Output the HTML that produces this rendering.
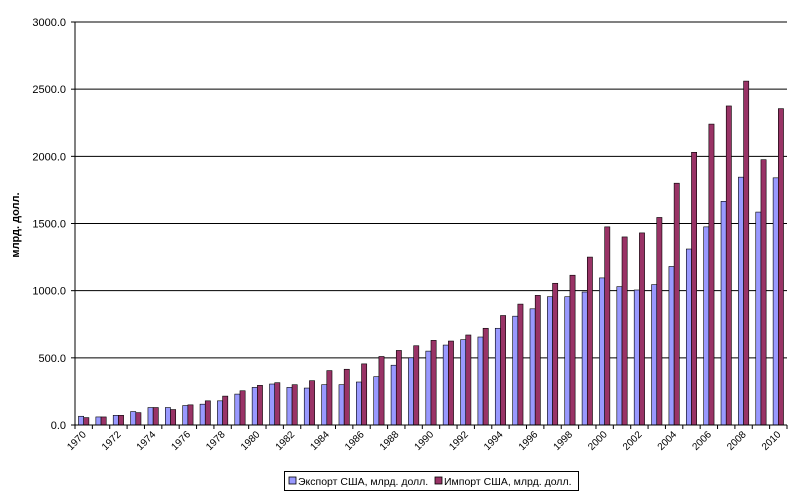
<!DOCTYPE html>
<html><head><meta charset="utf-8"><style>body{margin:0;background:#fff}svg{display:block}</style></head><body>
<svg id="c" width="800" height="498" xmlns="http://www.w3.org/2000/svg" font-family="Liberation Sans, Arial, sans-serif"></svg>
<script>
const ex=[65,60,72,100,130,130,145,155,180,230,280,305,280,275,300,300,320,360,445,500,550,595,635,655,720,810,865,955,955,990,1095,1030,1005,1045,1180,1310,1475,1665,1845,1585,1840];
const im=[55,60,72,92,130,115,150,180,215,255,295,315,300,330,405,415,455,510,555,590,630,625,670,720,815,900,965,1055,1115,1250,1475,1400,1430,1545,1800,2030,2240,2375,2560,1975,2355];
const x0=75,x1=787,y0=425,yt=22,n=41,gw=(x1-x0)/n,k=(y0-yt)/3000;
let s='';
for(let v=500;v<=3000;v+=500){const y=y0-v*k;s+=`<line x1="${x0}" x2="${x1}" y1="${y}" y2="${y}" stroke="#000" stroke-width="1"/>`;}
for(let v=0;v<=3000;v+=500){const y=y0-v*k;s+=`<text x="66" y="${y+4}" font-size="11" text-anchor="end">${v}.0</text><line x1="71" x2="${x0}" y1="${y}" y2="${y}" stroke="#000"/>`;}
for(let i=0;i<n;i++){const gx=x0+i*gw;const bw=5.2;const bx=gx+gw/2-bw;
s+=`<rect x="${bx}" y="${y0-ex[i]*k}" width="${bw}" height="${ex[i]*k}" fill="#9999ff" stroke="#000" stroke-width="0.6"/>`;
s+=`<rect x="${bx+bw}" y="${y0-im[i]*k}" width="${bw}" height="${im[i]*k}" fill="#993366" stroke="#000" stroke-width="0.6"/>`;
s+=`<line x1="${gx}" x2="${gx}" y1="${y0}" y2="${y0+4}" stroke="#000"/>`;
if(i%2==0){const cx=gx+gw/2+3,cy=y0+10;s+=`<text x="${cx}" y="${cy}" font-size="10" text-anchor="end" transform="rotate(-45 ${cx} ${cy})">${1970+i}</text>`;}}
s+=`<line x1="${x1}" x2="${x1}" y1="${y0}" y2="${y0+4}" stroke="#000"/>`;
s+=`<line x1="${x0}" x2="${x1}" y1="${y0}" y2="${y0}" stroke="#000"/><line x1="${x0}" x2="${x0}" y1="${yt}" y2="${y0}" stroke="#000"/>`;
s+=`<text x="19" y="225" font-size="11" font-weight="bold" text-anchor="middle" transform="rotate(-90 19 225)">млрд. долл.</text>`;
s+=`<rect x="284.5" y="471.5" width="294" height="19" fill="#fff" stroke="#000"/>`;
s+=`<rect x="289" y="477" width="7" height="7" fill="#9999ff" stroke="#000" stroke-width="0.8"/><text x="298" y="485" font-size="10.5">Экспорт США, млрд. долл.</text>`;
s+=`<rect x="435" y="477" width="7" height="7" fill="#993366" stroke="#000" stroke-width="0.8"/><text x="444" y="485" font-size="10.5">Импорт США, млрд. долл.</text>`;
document.getElementById('c').innerHTML=s;
</script>
</body></html>
